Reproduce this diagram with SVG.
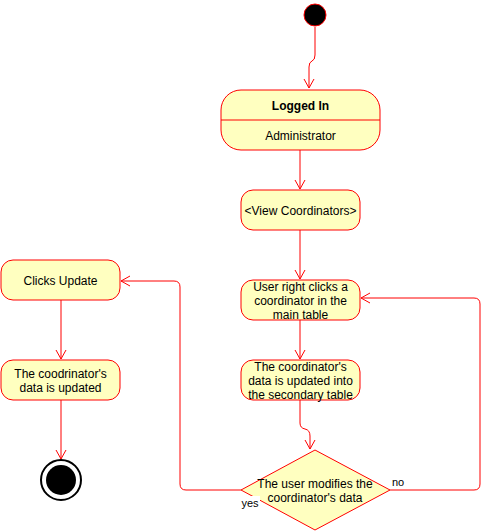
<svg xmlns="http://www.w3.org/2000/svg" width="491" height="531" viewBox="0 0 491 531">
<style>
.n{fill:#FFFFC0;stroke:#FF0000;stroke-width:1}
.e{fill:none;stroke:#FF0000;stroke-width:1;marker-end:url(#a)}
text{font-family:"Liberation Sans",Arial,sans-serif;font-size:12px;fill:#000;text-anchor:middle}
.b{font-weight:bold}
.l{font-size:11px}
</style>
<defs>
<marker id="a" markerWidth="12" markerHeight="12" refX="10" refY="6" orient="auto" markerUnits="userSpaceOnUse">
<path d="M1,1 L10,6 L1,11" fill="none" stroke="#FF0000" stroke-width="1"/>
</marker>
</defs>
<rect width="491" height="531" fill="#fff"/>
<g id="edges">
<path class="e" d="M315,27 V55 Q315,60 312,61 Q309,62 309,67 V88"/>
<path class="e" d="M300,150 V189"/>
<path class="e" d="M300,230 V279"/>
<path class="e" d="M300,320 V359"/>
<path class="e" d="M300,400 V423 Q300,428 305,429 Q310,430 310,436 V449"/>
<path class="e" d="M390,490 H474 Q480,490 480,484 V304 Q480,298 474,298 H361"/>
<path class="e" d="M241,490 H186 Q180,490 180,484 V287 Q180,281 174,281 H121"/>
<path class="e" d="M61,300 V359"/>
<path class="e" d="M61,400 V459"/>
</g>
<g id="start"><circle cx="315" cy="15" r="11" fill="#000" stroke="#FF0000"/></g>
<g id="loggedIn">
<rect class="n" x="221" y="90" width="159" height="60" rx="20" ry="20"/>
<line x1="221" y1="120" x2="380" y2="120" stroke="#FF0000"/>
<text class="b" x="300.5" y="110">Logged In</text>
<text x="300.5" y="140">Administrator</text>
</g>
<g id="viewCoordinators">
<rect class="n" x="241" y="190" width="119" height="40" rx="12" ry="12"/>
<text x="300.5" y="215">&lt;View Coordinators&gt;</text>
</g>
<g id="rightClick">
<rect class="n" x="241" y="280" width="119" height="40" rx="12" ry="12"/>
<text x="300.5" y="291">User right clicks a</text>
<text x="300.5" y="305">coordinator in the</text>
<text x="300.5" y="319">main table</text>
</g>
<g id="secondary">
<rect class="n" x="241" y="360" width="119" height="40" rx="12" ry="12"/>
<text x="300.5" y="371">The coordinator's</text>
<text x="300.5" y="385">data is updated into</text>
<text x="300.5" y="399">the secondary table</text>
</g>
<g id="decision">
<polygon class="n" points="315,450 390,490 315,530 241,490"/>
<text x="315" y="488">The user modifies the</text>
<text x="315" y="502">coordinator's data</text>
</g>
<g id="labels">
<text class="l" x="398" y="486">no</text>
<rect x="240" y="496" width="20" height="12" fill="#fff"/>
<text class="l" x="250" y="507">yes</text>
</g>
<g id="clicksUpdate">
<rect class="n" x="1" y="260" width="119" height="40" rx="12" ry="12"/>
<text x="60.5" y="285">Clicks Update</text>
</g>
<g id="updated">
<rect class="n" x="1" y="360" width="119" height="40" rx="12" ry="12"/>
<text x="60.5" y="378">The coodrinator's</text>
<text x="60.5" y="392">data is updated</text>
</g>
<g id="end">
<circle cx="61" cy="480" r="20" fill="#fff" stroke="#000" stroke-width="2"/>
<circle cx="61" cy="480" r="15" fill="#000"/>
</g>
</svg>
